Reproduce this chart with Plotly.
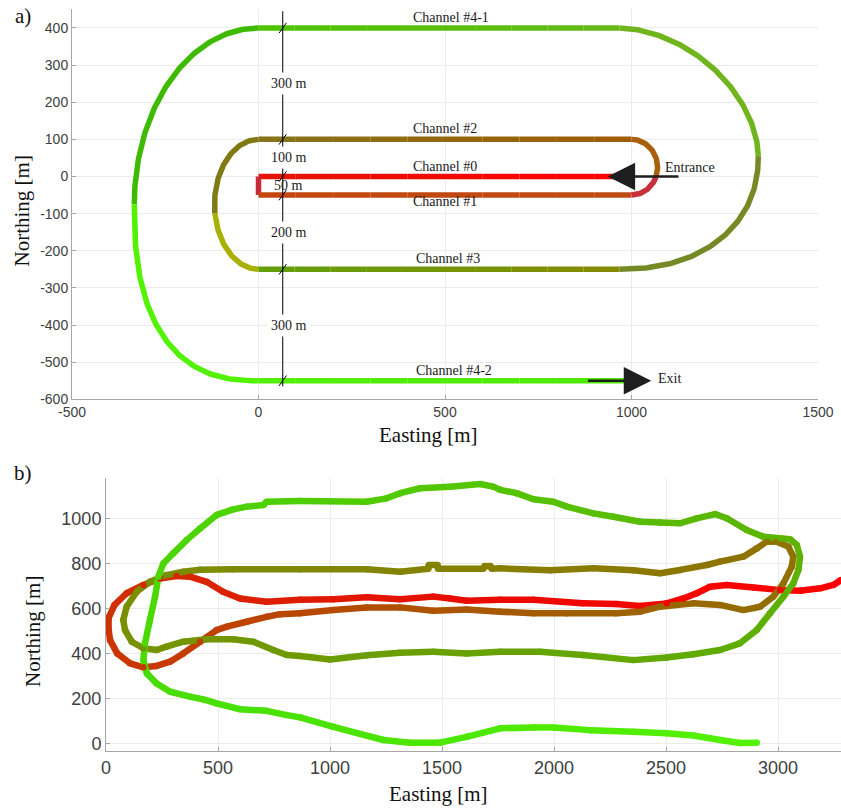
import numpy as np
import plotly.graph_objects as go

W, H = 841, 811

# ---------------- panel (a): planned channel layout ----------------
channel_names = ["Channel #0", "Channel #1", "Channel #2", "Channel #3", "Channel #4-1", "Channel #4-2"]
channel_north = [0, -50, 100, -250, 400, -550]
channel_east_start = [1000, 0, 1000, 0, 968, 0]
channel_east_end = [0, 1000, 0, 968, 0, 1000]
channel_color_start = ["#FF0000", "#C4460E", "#A25C02", "#62A00C", "#66B818", "#52F000"]
channel_color_end = ["#E41400", "#BE4C12", "#86741A", "#868A02", "#4CC400", "#4CE800"]

# short link between channel #0 and channel #1 at the west end
link_color = "#C8283A"

# turns joining the channels (centre, semi-axes, exponents, side, colour split)
turn_east = [1000, 0, 968, 0]
turn_north = [25, -75, 55, -75]
turn_a = [70, 118, 372, 333]
turn_b_upper = [75, 175, 345, 475]
turn_b_lower = [75, 175, 305, 475]
turn_n_upper = [2.0, 2.0, 1.8, 2.0]
turn_n_lower = [2.0, 2.0, 2.2, 2.5]
turn_side = [1, -1, 1, -1]
turn_upward = [True, False, True, False]
turn_split_deg = [-20, -8, 0, 0]
turn_color_first = ["#C8303C", "#807A14", "#758A25", "#3EBA00"]
turn_color_second = ["#A8600C", "#A8B000", "#70B41E", "#52F200"]

x_ticks_a = [-500, 0, 500, 1000, 1500]
x_ticklabels_a = ["-500", "0", "500", "1000", "1500"]
y_ticks_a = [-600, -500, -400, -300, -200, -100, 0, 100, 200, 300, 400]
y_ticklabels_a = ["-600", "-500", "-400", "-300", "-200", "-100", "0", "100", "200", "300", "400"]

# ---------------- panel (b): measured trajectory ----------------
east_b = [3281, 3247, 3188, 3098, 3009, 2890, 2771, 2696, 2637, 2577, 2503, 2384, 2277, 2128,
          1908, 1759, 1610, 1536, 1461, 1313, 1164, 1015, 866, 717, 598, 522, 449, 375, 315,
          241, 167, 92, 38, 12, 11, 18, 50, 107, 167, 226, 286, 345, 420, 494, 539, 628, 717,
          777, 866, 1015, 1164, 1313, 1461, 1610, 1759, 1908, 2057, 2277, 2384, 2473, 2622,
          2741, 2845, 2920, 2979, 3024, 3061, 3068, 3046, 2994, 2949, 2905, 2845, 2741, 2682,
          2563, 2473, 2354, 2176, 1982, 1759, 1722, 1716, 1690, 1684, 1482, 1480, 1441, 1439,
          1313, 1164, 866, 568, 420, 345, 270, 196, 137, 92, 77, 85, 115, 167, 226, 270, 345,
          449, 568, 658, 747, 807, 866, 1001, 1164, 1313, 1461, 1610, 1759, 1937, 2128, 2354,
          2503, 2622, 2741, 2830, 2905, 2964, 3024, 3068, 3091, 3098, 3084, 3054, 3009, 2934,
          2860, 2771, 2719, 2637, 2563, 2473, 2384, 2265, 2176, 2057, 1997, 1908, 1833, 1759,
          1729, 1670, 1536, 1402, 1313, 1253, 1164, 866, 717, 703, 628, 568, 494, 420, 360,
          300, 256, 234, 219, 196, 174, 167, 182, 226, 286, 375, 435, 494, 598, 717, 807, 866,
          1015, 1238, 1357, 1491, 1610, 1759, 1908, 1997, 2161, 2354, 2503, 2622, 2741, 2830,
          2905]
north_b = [728, 706, 691, 680, 683, 695, 706, 698, 669, 646, 624, 612, 621, 624,
           640, 640, 636, 646, 654, 642, 651, 642, 640, 631, 646, 676, 720, 743, 746,
           735, 706, 669, 617, 560, 515, 460, 401, 357, 339, 345, 364, 401, 453, 505, 520, 542, 564,
           576, 580, 594, 606, 606, 591, 597, 587, 580, 580, 580, 587, 609, 624,
           617, 594, 609, 654, 713, 787, 832, 877, 899, 899, 869, 832, 810, 795,
           773, 758, 772, 780, 772, 780, 778, 790, 790, 778, 778, 795, 795, 778,
           765, 776, 776, 776, 774, 765, 750, 720, 676, 609, 550, 505, 453, 424, 416, 431, 453,
           464, 464, 453, 416, 394, 389, 374, 393, 404, 408, 401, 408, 408, 394, 371,
           383, 397, 416, 446, 505, 580, 654, 713, 773, 832, 884, 910, 914, 921,
           951, 1003, 1022, 1003, 981, 984, 988, 1010, 1025, 1055, 1077, 1088, 1115, 1130,
           1144, 1156, 1144, 1137, 1115, 1092, 1077, 1080, 1077, 1062, 1055, 1043, 1018, 958, 906,
           847, 802, 743, 654, 550, 446, 371, 312, 267, 230, 208, 196, 178, 152, 145, 126, 116,
           74, 15, 3, 3, 29, 67, 71, 71, 59, 52, 45, 35, 15, 2,
           3]

x_ticks_b = [0, 500, 1000, 1500, 2000, 2500, 3000]
y_ticks_b = [0, 200, 400, 600, 800, 1000]

# colour of the track as it progresses (fraction of travelled distance)
progress_stops = [0.00, 0.08, 0.15, 0.20, 0.27, 0.34, 0.42, 0.50, 0.56, 0.64, 0.72, 0.80, 0.88, 1.00]
progress_colors = ["#FF0000", "#EA0A00", "#D82600", "#C23E00", "#A85800", "#907000", "#868000",
                   "#7A8E00", "#6C9C00", "#60AA00", "#58BC00", "#4ED000", "#48E000", "#54F200"]

SANS = "Liberation Sans, Arial, sans-serif"
SERIF = "Liberation Serif, Times New Roman, serif"
TICK_COL = "#404040"
AXIS_COL = "#A6A6A6"
GRID_COL = "#EBEBEB"


def hex_to_rgb(h):
    h = h.lstrip("#")
    return np.array([int(h[i:i + 2], 16) for i in (0, 2, 4)], dtype=float)


def mix(c0, c1, f):
    r = hex_to_rgb(c0) * (1 - f) + hex_to_rgb(c1) * f
    return "rgb({:d},{:d},{:d})".format(*[int(round(v)) for v in r])


def progress_color(f):
    for i in range(len(progress_stops) - 1):
        if f <= progress_stops[i + 1]:
            g = (f - progress_stops[i]) / (progress_stops[i + 1] - progress_stops[i])
            return mix(progress_colors[i], progress_colors[i + 1], g)
    return progress_colors[-1]


fig = go.Figure()
LW_A = 5.5


def add_a(xs, ys, color):
    fig.add_trace(go.Scatter(x=xs, y=ys, mode="lines", line=dict(color=color, width=LW_A),
                             xaxis="x", yaxis="y", hoverinfo="skip", showlegend=False))


def draw_channel(i, pieces=10):
    e0, e1 = channel_east_start[i], channel_east_end[i]
    n = channel_north[i]
    edges = np.linspace(e0, e1, pieces + 1)
    for k in range(pieces):
        add_a([edges[k], edges[k + 1]], [n, n],
              mix(channel_color_start[i], channel_color_end[i], (k + 0.5) / pieces))


def turn_xy(k, t_from, t_to, npts=120):
    t = np.radians(np.linspace(t_from, t_to, npts))
    c, s = np.cos(t), np.sin(t)
    b = np.where(s >= 0, turn_b_upper[k], turn_b_lower[k])
    nn = np.where(s >= 0, turn_n_upper[k], turn_n_lower[k])
    x = turn_east[k] + turn_side[k] * turn_a[k] * np.abs(c) ** (2 / nn)
    y = turn_north[k] + np.sign(s) * b * np.abs(s) ** (2 / nn)
    return x, y


def draw_turn(k):
    sp = turn_split_deg[k]
    if turn_upward[k]:
        first, second = (-90, sp), (sp, 90)
    else:
        first, second = (90, sp), (sp, -90)
    x, y = turn_xy(k, *first)
    add_a(x, y, turn_color_first[k])
    x, y = turn_xy(k, *second)
    add_a(x, y, turn_color_second[k])


# drive order through the layout
draw_channel(0)
add_a([0, 0], [channel_north[0], channel_north[1]], link_color)
draw_channel(1)
draw_turn(0)
draw_channel(2)
draw_turn(1)
draw_channel(3)
draw_turn(2)
draw_channel(4)
draw_turn(3)
draw_channel(5)

# ---------------- panel (b) track ----------------
eb = np.array(east_b, dtype=float)
nb = np.array(north_b, dtype=float)
dist = np.concatenate([[0], np.cumsum(np.hypot(np.diff(eb), np.diff(nb)))])
frac = dist / dist[-1]
LW_B = 6.5
for i in range(len(eb) - 1):
    fig.add_trace(go.Scatter(x=eb[i:i + 2], y=nb[i:i + 2], mode="lines",
                             line=dict(color=progress_color(0.5 * (frac[i] + frac[i + 1])), width=LW_B),
                             xaxis="x2", yaxis="y2", hoverinfo="skip", showlegend=False))
fig.add_trace(go.Scatter(x=eb, y=nb, mode="markers", cliponaxis=False,
                         marker=dict(size=LW_B, color=[progress_color(f) for f in frac], line=dict(width=0)),
                         xaxis="x2", yaxis="y2", hoverinfo="skip", showlegend=False))

# ---------------- annotations and shapes ----------------
annotations = []
shapes = []

# dimension line with spacing between channels
dim_east = 65
levels = sorted(set(channel_north), reverse=True)
shapes.append(dict(type="line", xref="x", yref="y", x0=dim_east, x1=dim_east, y0=445, y1=-565,
                   line=dict(color="#000000", width=1), layer="above"))
for lv in levels:
    shapes.append(dict(type="line", xref="x", yref="y", x0=dim_east - 10, x1=dim_east + 10,
                       y0=lv - 14, y1=lv + 14, line=dict(color="#000000", width=1), layer="above"))
for up, lo in zip(levels[:-1], levels[1:]):
    gap = up - lo
    annotations.append(dict(xref="x", yref="y", x=dim_east + 16, y=(up + lo) / 2, text=f"{gap} m",
                            showarrow=False, font=dict(family=SERIF, size=14, color="#1A1A1A"),
                            bgcolor="white" if gap > 50 else "rgba(0,0,0,0)", borderpad=3))

# channel names
for i, name in enumerate(channel_names):
    off = -17 if channel_north[i] == -50 else 28
    x_left = 418 if channel_north[i] in (-250, -550) else 410
    annotations.append(dict(xref="x", yref="y", x=x_left, y=channel_north[i] + off, text=name,
                            xanchor="left", showarrow=False,
                            font=dict(family=SERIF, size=14, color="#1A1A1A")))

# entrance / exit arrows
annotations.append(dict(xref="x", yref="y", axref="x", ayref="y", x=936, y=0, ax=1130, ay=0,
                        text="", showarrow=True, arrowhead=2, arrowsize=2.2, arrowwidth=2.5,
                        arrowcolor="#1E1E1E"))
annotations.append(dict(xref="x", yref="y", x=1085, y=24, text="Entrance", xanchor="left",
                        showarrow=False, font=dict(family=SERIF, size=14, color="#1A1A1A")))
annotations.append(dict(xref="x", yref="y", axref="x", ayref="y", x=1053, y=-550, ax=879, ay=-550,
                        text="", showarrow=True, arrowhead=2, arrowsize=2.2, arrowwidth=2.5,
                        arrowcolor="#1E1E1E"))
annotations.append(dict(xref="x", yref="y", x=1067, y=-545, text="Exit", xanchor="left",
                        showarrow=False, font=dict(family=SERIF, size=14, color="#1A1A1A")))

# axis titles and panel letters
def paper_text(px, py, text, size, angle=0):
    annotations.append(dict(xref="paper", yref="paper", x=px / W, y=1 - py / H, text=text,
                            showarrow=False, textangle=angle, xanchor="center", yanchor="middle",
                            font=dict(family=SERIF, size=size, color="#111111")))


paper_text(428, 435, "Easting [m]", 21)
paper_text(21.5, 211, "Northing [m]", 21, -90)
paper_text(438, 794, "Easting [m]", 21)
paper_text(33, 632, "Northing [m]", 21, -90)
paper_text(23, 16, "a)", 21)
paper_text(23, 473, "b)", 21)

axis_common = dict(showgrid=True, gridcolor=GRID_COL, gridwidth=1, zeroline=False, showline=True,
                   linecolor=AXIS_COL, linewidth=1, ticks="inside", ticklen=4, tickcolor=AXIS_COL,
                   mirror=False, tickmode="array", automargin=False)

fig.update_layout(
    width=W, height=H, margin=dict(l=0, r=0, t=0, b=0, pad=0, autoexpand=False),
    paper_bgcolor="white", plot_bgcolor="white", showlegend=False,
    xaxis=dict(axis_common, domain=[72 / W, 818 / W], range=[-500, 1500], anchor="y",
               tickvals=x_ticks_a, ticktext=x_ticklabels_a,
               tickfont=dict(family=SANS, size=14, color=TICK_COL)),
    yaxis=dict(axis_common, domain=[1 - 399.3 / H, 1 - 9.4 / H], range=[-600, 450], anchor="x",
               tickvals=y_ticks_a, ticktext=y_ticklabels_a,
               tickfont=dict(family=SANS, size=14, color=TICK_COL)),
    xaxis2=dict(axis_common, domain=[106 / W, 1.0], range=[0, 3281], anchor="y2",
                tickvals=x_ticks_b, ticktext=[str(v) for v in x_ticks_b],
                tickfont=dict(family=SANS, size=18, color=TICK_COL)),
    yaxis2=dict(axis_common, domain=[1 - 751 / H, 1 - 477.7 / H], range=[-34, 1184], anchor="x2",
                tickvals=y_ticks_b, ticktext=[str(v) for v in y_ticks_b],
                tickfont=dict(family=SANS, size=18, color=TICK_COL)),
    shapes=shapes, annotations=annotations,
)

fig.write_html("out.html")
